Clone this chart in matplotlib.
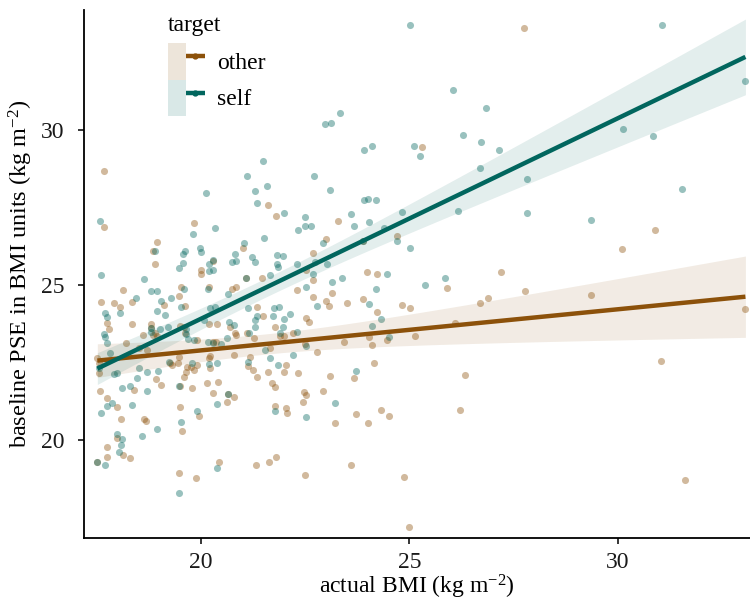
import numpy as np
import matplotlib
matplotlib.use("Agg")
import matplotlib.pyplot as plt
from matplotlib.patches import Patch
from matplotlib.lines import Line2D
from matplotlib.legend_handler import HandlerTuple

plt.rcParams['font.family'] = ['Liberation Serif', 'DejaVu Serif']
plt.rcParams['mathtext.fontset'] = 'custom'
plt.rcParams['mathtext.rm'] = 'Liberation Serif'
plt.rcParams['mathtext.it'] = 'Liberation Serif:italic'

# ---- data: actual BMI vs baseline PSE, by judgement target ----
self_actual = [
    21.48, 21.1, 21.58, 21.3, 20.12, 17.58, 19.81, 18.9, 19.62, 19.57,
    19.98, 20.0, 19.57, 19.47, 17.6, 18.64, 18.8, 18.95, 19.59, 19.28,
    18.44, 19.04, 19.52, 21.34, 21.99, 20.33, 21.5, 21.03, 20.19, 20.29,
    20.19, 20.29, 20.81, 20.84, 20.74, 21.22, 21.29, 21.82, 21.96, 21.82,
    21.84, 22.3, 20.17, 20.65, 21.08, 21.65, 20.22, 20.33, 21.12, 21.75,
    21.87, 20.07, 20.67, 20.79, 21.34, 21.29, 21.72, 22.13, 21.99, 21.29,
    21.96, 18.8, 18.8, 19.02, 19.64, 19.64, 17.66, 17.7, 17.73, 17.7,
    17.73, 17.82, 18.06, 19.69, 20.62, 21.89, 22.3, 21.53, 21.65, 22.2,
    21.12, 19.23, 19.78, 21.84, 17.99, 17.9, 18.52, 18.71, 18.97, 18.95,
    19.14, 19.21, 19.83, 17.56, 18.47, 19.47, 18.11, 18.3, 18.71, 17.85,
    17.75, 18.33, 17.6, 18.95, 19.52, 19.9, 18.59, 17.99, 18.11, 18.08,
    18.04, 17.7, 17.51, 20.38, 20.38, 20.65, 19.47, 21.77, 22.7, 22.49,
    22.32, 22.49, 22.63, 22.73, 22.51, 22.78, 21.15, 22.51, 20.17, 20.29,
    20.48, 20.19, 20.38, 22.51, 25.02, 26.05, 26.84, 23.33, 23.11, 22.97,
    26.29, 26.72, 27.15, 25.12, 25.26, 23.92, 24.09, 26.7, 23.09, 23.92,
    24.0, 24.19, 23.59, 23.68, 24.02, 24.83, 26.17, 22.92, 24.38, 23.88,
    24.69, 25.02, 31.05, 33.06, 30.12, 30.84, 27.82, 27.82, 29.35, 31.53,
    23.01, 22.68, 24.45, 23.13, 23.37, 24.19, 25.36, 25.86, 24.02, 24.31,
    24.11, 24.5, 23.71, 23.21,
]
self_pse = [
    29.0, 28.5, 28.2, 28.03, 27.97, 27.06, 26.65, 26.1, 26.1, 26.0,
    26.2, 26.06, 25.7, 25.55, 25.32, 25.19, 24.8, 24.8, 24.87, 24.58,
    24.58, 24.48, 24.3, 27.64, 27.32, 26.84, 26.52, 26.35, 25.68, 25.81,
    25.45, 25.48, 26.0, 25.77, 25.74, 25.9, 25.74, 25.97, 25.94, 25.68,
    25.58, 25.68, 24.87, 24.71, 25.23, 25.32, 24.26, 24.29, 24.26, 24.26,
    24.29, 23.87, 23.8, 23.71, 24.0, 23.87, 24.0, 24.06, 23.9, 23.65,
    23.65, 23.6, 23.48, 23.58, 23.58, 23.42, 23.42, 23.32, 23.13, 24.1,
    23.97, 22.8, 24.1, 23.26, 23.29, 23.45, 23.48, 22.9, 22.65, 22.74,
    22.52, 22.52, 22.48, 22.42, 22.16, 22.13, 22.32, 22.19, 22.23, 24.16,
    24.03, 23.65, 23.23, 22.32, 22.0, 21.74, 21.68, 21.74, 21.58, 21.19,
    21.1, 21.13, 20.87, 20.35, 20.58, 20.94, 20.13, 20.19, 20.03, 19.84,
    19.61, 19.19, 19.29, 19.1, 21.16, 21.48, 18.29, 20.94, 28.52, 27.19,
    26.77, 26.9, 26.9, 25.74, 24.94, 24.32, 23.45, 23.03, 23.16, 23.13,
    23.1, 22.45, 22.48, 20.74, 33.39, 31.29, 30.71, 30.55, 30.23, 30.19,
    29.84, 29.61, 29.35, 29.48, 29.16, 29.35, 29.48, 28.77, 28.06, 27.74,
    27.77, 27.74, 27.29, 26.9, 27.03, 27.35, 27.39, 26.35, 26.84, 26.42,
    26.42, 26.19, 33.39, 31.58, 30.03, 29.81, 28.42, 27.32, 27.1, 28.1,
    25.68, 25.35, 25.35, 25.1, 25.23, 24.87, 25.0, 25.23, 24.39, 23.9,
    23.68, 23.32, 22.23, 21.19,
]
other_actual = [
    17.66, 17.66, 19.83, 18.95, 18.85, 18.9, 20.0, 20.0, 18.13, 19.52,
    19.47, 19.11, 17.6, 17.9, 18.06, 18.35, 19.62, 21.6, 21.79, 21.0,
    20.29, 20.19, 20.74, 20.84, 21.08, 21.46, 22.3, 21.34, 20.38, 20.19,
    20.69, 21.48, 21.77, 18.35, 18.8, 18.85, 18.95, 19.5, 18.61, 18.2,
    17.73, 17.78, 19.9, 20.29, 20.36, 20.81, 20.84, 21.1, 21.27, 21.89,
    21.99, 22.2, 21.17, 20.22, 20.19, 20.22, 20.79, 19.45, 19.31, 19.67,
    19.9, 22.0, 22.32, 17.54, 17.54, 18.8, 18.9, 19.6, 19.62, 17.51,
    18.52, 18.71, 19.26, 19.47, 19.76, 19.83, 19.64, 19.59, 18.92, 19.04,
    19.5, 19.78, 18.4, 17.58, 17.73, 17.99, 18.08, 18.64, 18.68, 19.5,
    19.55, 19.95, 17.75, 17.75, 18.3, 17.99, 18.13, 17.51, 19.47, 19.88,
    20.43, 20.62, 20.79, 20.65, 20.41, 20.29, 20.14, 21.12, 21.24, 21.34,
    21.6, 21.7, 21.77, 22.03, 21.77, 22.03, 22.06, 21.32, 21.63, 21.79,
    22.51, 22.58, 22.78, 21.65, 22.46, 22.51, 22.44, 22.68, 22.51, 22.68,
    22.68, 23.28, 22.99, 23.88, 24.69, 25.31, 27.75, 30.89, 30.1, 27.2,
    27.78, 29.35, 33.06, 31.03, 31.6, 23.97, 24.21, 25.89, 23.13, 22.99,
    23.06, 23.49, 23.88, 24.23, 24.81, 25.02, 26.7, 26.89, 22.49, 23.42,
    24.02, 24.11, 24.45, 25.14, 26.1, 23.68, 24.14, 23.09, 26.32, 22.92,
    23.21, 23.71, 24.0, 24.31, 24.5, 26.2, 23.59, 22.49, 24.88, 25.0,
]
other_pse = [
    28.68, 26.87, 27.0, 26.39, 26.1, 25.68, 25.5, 25.35, 24.84, 24.94,
    24.65, 24.35, 24.45, 24.42, 24.3, 24.45, 24.32, 27.58, 27.23, 26.19,
    25.77, 24.94, 24.87, 24.94, 25.23, 25.23, 24.84, 24.29, 23.74, 23.74,
    23.65, 24.0, 23.65, 23.74, 23.74, 23.4, 23.35, 23.68, 23.39, 23.13,
    23.77, 23.58, 23.23, 23.16, 23.16, 23.45, 23.39, 23.45, 23.29, 23.35,
    23.35, 23.45, 22.68, 22.71, 22.65, 22.32, 22.74, 22.48, 22.42, 22.35,
    22.42, 22.19, 22.16, 22.48, 22.16, 23.6, 23.45, 23.65, 23.45, 22.65,
    22.97, 22.9, 22.48, 22.68, 22.35, 22.26, 22.19, 22.03, 21.97, 21.77,
    21.74, 21.68, 21.61, 21.58, 21.35, 21.06, 20.68, 20.68, 20.61, 21.06,
    20.29, 20.77, 19.77, 19.45, 19.42, 20.06, 19.52, 19.29, 18.94, 18.77,
    19.29, 21.23, 21.39, 21.48, 21.87, 21.52, 21.84, 22.39, 22.26, 22.03,
    22.19, 21.84, 21.71, 22.42, 21.1, 21.03, 20.87, 19.19, 19.29, 19.45,
    23.94, 23.81, 22.84, 22.97, 21.55, 21.45, 21.23, 26.03, 25.48, 25.16,
    24.61, 27.06, 26.48, 26.42, 26.58, 29.45, 33.29, 26.77, 26.15, 25.42,
    24.81, 24.68, 24.23, 22.55, 18.71, 25.42, 25.35, 24.9, 24.74, 24.48,
    24.32, 24.42, 24.55, 24.13, 24.35, 24.26, 24.42, 24.58, 23.1, 23.16,
    23.32, 23.06, 23.23, 23.35, 23.77, 22.0, 22.48, 22.06, 22.1, 21.58,
    20.55, 20.84, 20.55, 20.97, 20.77, 20.97, 19.19, 18.87, 18.81, 17.19,
]

targets = ["other", "self"]
series = {"other": (other_actual, other_pse), "self": (self_actual, self_pse)}
palette = {"other": "#8c510a", "self": "#01665e"}

x_ticks = [20, 25, 30]
y_ticks = [20, 25, 30]
x_label = r"actual BMI (kg m$^{-2}$)"
y_label = r"baseline PSE in BMI units (kg m$^{-2}$)"

T_CRIT = 1.973  # two-sided 95 % t quantile, df ~ 180


def linear_fit_band(x, y, grid):
    """OLS line with 95 % confidence band for the mean."""
    x = np.asarray(x, float)
    y = np.asarray(y, float)
    n = len(x)
    slope, intercept = np.polyfit(x, y, 1)
    resid = y - (intercept + slope * x)
    s = np.sqrt(np.sum(resid ** 2) / (n - 2))
    sxx = np.sum((x - x.mean()) ** 2)
    fit = intercept + slope * grid
    se = s * np.sqrt(1.0 / n + (grid - x.mean()) ** 2 / sxx)
    return fit, fit - T_CRIT * se, fit + T_CRIT * se


fig = plt.figure(figsize=(7.5, 6.03), dpi=100)
ax = fig.add_axes([0.112, 0.1078, 0.888, 0.8756])

for t in targets:
    xs, ys = series[t]
    ax.scatter(xs, ys, s=26, color=palette[t], alpha=0.4,
               linewidths=0, zorder=2)

handles = []
for t in targets:
    xs, ys = series[t]
    grid = np.linspace(min(xs), max(xs), 200)
    fit, lo, hi = linear_fit_band(xs, ys, grid)
    ax.fill_between(grid, lo, hi, color=palette[t], alpha=0.11,
                    linewidth=0, zorder=3)
    ax.plot(grid, fit, color=palette[t], lw=3.2, zorder=4,
            solid_capstyle="butt")
    patch = Patch(facecolor=palette[t], alpha=0.15, edgecolor="none")
    line = Line2D([], [], color=palette[t], lw=3.2, marker="o",
                  markersize=3.5, solid_capstyle="butt")
    handles.append((patch, line))

ax.set_xlim(17.19, 33.17)
ax.set_ylim(16.84, 33.87)
ax.set_xticks(x_ticks)
ax.set_yticks(y_ticks)

for side in ("top", "right"):
    ax.spines[side].set_visible(False)
for side in ("left", "bottom"):
    ax.spines[side].set_linewidth(1.3)
    ax.spines[side].set_color("black")

ax.tick_params(axis="both", direction="out", length=4, width=1.1,
               color="black", labelsize=17, labelcolor="#1a1a1a")
ax.tick_params(axis="x", pad=6)
ax.tick_params(axis="y", pad=10)

ax.set_xlabel(x_label, fontsize=17, labelpad=0)
ax.set_ylabel(y_label, fontsize=17.5, labelpad=4)

leg = ax.legend(handles, targets, title="target",
                handler_map={tuple: HandlerTuple(ndivide=None, pad=0)},
                loc="upper left", bbox_to_anchor=(0.126, 0.99),
                frameon=False, fontsize=17, title_fontsize=17,
                handlelength=1.55, handleheight=2.0, labelspacing=0,
                handletextpad=0.55, borderpad=0, borderaxespad=0,
                alignment="left")
leg._legend_box.sep = 5

fig.savefig("out.png", dpi=100)
